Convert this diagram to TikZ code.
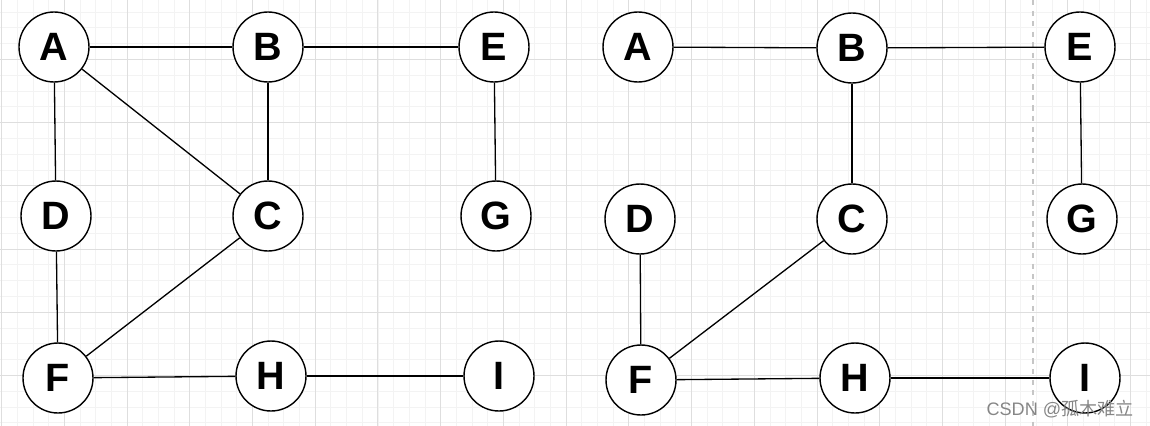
\documentclass[tikz,border=0pt]{standalone}
\usepackage{fontspec}
\setmainfont{Liberation Sans}
\newfontfamily\cjkfont{Noto Sans CJK SC}
\usepackage{tikz}
\definecolor{gridMinor}{HTML}{F3F3F3}
\definecolor{gridMajor}{HTML}{DEDEDE}
\tikzset{
    vtx/.style={circle, draw, line width=0.8pt, minimum size=1.4cm, inner sep=0pt,
        fill=white, font=\bfseries\fontsize{22.5}{22}\selectfont},
    edge/.style={line width=0.75pt},
    wmark/.style={text=gray!95, font=\fontsize{10.3}{12}\selectfont, inner sep=0pt}
}

\begin{document}
\begin{tikzpicture}[x=0.02cm, y=-0.02cm]
    \useasboundingbox (0,0) rectangle (1150,426);
    % background grid
    \foreach \gx in {0,...,73}
        \draw[gridMinor, line width=0.35pt] ({1.5+\gx*15.68},0) -- ({1.5+\gx*15.68},426);
    \foreach \gy in {0,...,27}
        \draw[gridMinor, line width=0.35pt] (0,{-3.8+\gy*15.8}) -- (1150,{-3.8+\gy*15.8});
    \foreach \gx in {0,...,18}
        \draw[gridMajor, line width=0.4pt] ({1.5+\gx*62.72},0) -- ({1.5+\gx*62.72},426);
    \foreach \gy in {1,...,7}
        \draw[gridMajor, line width=0.4pt] (0,{-3.8+\gy*63.2}) -- (1150,{-3.8+\gy*63.2});
    \draw[gray!45, dashed, line width=0.7pt] (1033,0) -- (1033,426);

    % left graph
    \node[vtx] (lA) at (54,47) {A};
    \node[vtx] (lB) at (268,47) {B};
    \node[vtx] (lE) at (494,47) {E};
    \node[vtx] (lD) at (56,216) {D};
    \node[vtx] (lC) at (268,216) {C};
    \node[vtx] (lG) at (496,216) {G};
    \node[vtx] (lF) at (58,378) {F};
    \node[vtx] (lH) at (271,376) {H};
    \node[vtx] (lI) at (499,376) {I};
    \draw[edge] (lA) -- (lB);
    \draw[edge] (lB) -- (lE);
    \draw[edge] (lA) -- (lD);
    \draw[edge] (lA) -- (lC);
    \draw[edge] (lB) -- (lC);
    \draw[edge] (lE) -- (lG);
    \draw[edge] (lD) -- (lF);
    \draw[edge] (lC) -- (lF);
    \draw[edge] (lF) -- (lH);
    \draw[edge] (lH) -- (lI);

    % right graph
    \node[vtx] (rA) at (638,47) {A};
    \node[vtx] (rB) at (852,48) {B};
    \node[vtx] (rE) at (1080,47) {E};
    \node[vtx] (rD) at (640,219) {D};
    \node[vtx] (rC) at (852,219) {C};
    \node[vtx] (rG) at (1082,219) {G};
    \node[vtx] (rF) at (641,380) {F};
    \node[vtx] (rH) at (855,378) {H};
    \node[vtx] (rI) at (1085,378) {I};
    \draw[edge] (rA) -- (rB);
    \draw[edge] (rB) -- (rE);
    \draw[edge] (rB) -- (rC);
    \draw[edge] (rE) -- (rG);
    \draw[edge] (rD) -- (rF);
    \draw[edge] (rC) -- (rF);
    \draw[edge] (rF) -- (rH);
    \draw[edge] (rH) -- (rI);

    \node[wmark, anchor=east] (credit) at (1134,409) {CSDN @{\cjkfont 孤木难立}};
\end{tikzpicture}
\end{document}
